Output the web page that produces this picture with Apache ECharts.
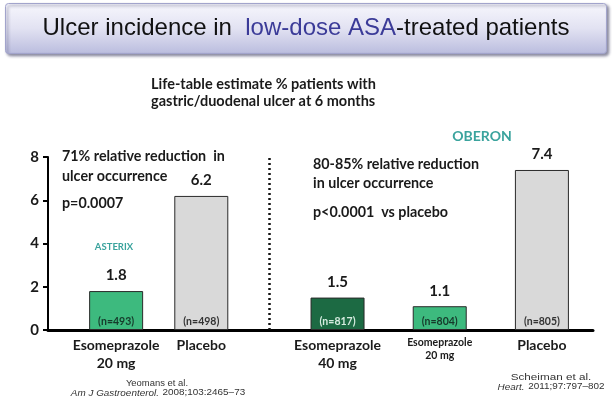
<!DOCTYPE html>
<html>
<head>
<meta charset="utf-8">
<script src="https://cdn.jsdelivr.net/npm/echarts@6/dist/echarts.min.js"></script>
<style>
  html, body { margin: 0; padding: 0; background: #ffffff; }
  #chart { width: 613px; height: 401px; }
</style>
</head>
<body>
<div id="chart"></div>
<script>
// ---- data ----
const categories = ['Esomeprazole\n20 mg', 'Placebo', 'Esomeprazole\n40 mg', 'Esomeprazole\n20 mg', 'Placebo'];
const values = [1.8, 6.2, 1.5, 1.1, 7.4];
const sampleSizes = [493, 498, 817, 804, 805];
const studies = ['ASTERIX', 'ASTERIX', 'OBERON', 'OBERON', 'OBERON'];
const yTicks = [0, 2, 4, 6, 8];

// ---- layout (slot positions on the category axis) ----
const slotCount = 33;
const slotIndex = [4, 9, 17, 23, 29];
const separatorSlot = 13;
const barColors = ['#3dba7e', '#d9d9d9', '#1c6a43', '#3dba7e', '#d9d9d9'];
const nColors = ['#16392a', '#333333', '#d6ece0', '#16392a', '#333333'];
const smallLabel = [false, false, false, true, false];

const FONT = 'Lato, "Open Sans", sans-serif';
const REF_FONT = '"Liberation Sans", Arial, sans-serif';

const slots = [];
for (let i = 0; i < slotCount; i++) slots.push('s' + i);
const labelBySlot = {};
const barData = new Array(slotCount).fill(null);
const nData = new Array(slotCount).fill(null);
categories.forEach((c, k) => {
  const s = slotIndex[k];
  labelBySlot[s] = k;
  barData[s] = { value: values[k], itemStyle: { color: barColors[k] } };
  nData[s] = { value: values[k], label: { color: nColors[k] }, n: sampleSizes[k] };
});

const chart = echarts.init(document.getElementById('chart'), null, { renderer: 'canvas' });

const option = {
  backgroundColor: '#ffffff',
  animation: false,
  grid: { left: 48, right: 20, top: 157, bottom: 71, containLabel: false },
  xAxis: {
    type: 'category',
    data: slots,
    boundaryGap: false,
    axisLine: { show: true, lineStyle: { color: '#000', width: 3 } },
    axisTick: { show: false },
    splitLine: { show: false },
    axisLabel: {
      interval: 0,
      margin: 6,
      fontFamily: FONT,
      fontWeight: 'bold',
      fontSize: 14,
      lineHeight: 18,
      color: '#1a1a1a',
      align: 'center',
      formatter: function (v, idx) {
        const k = labelBySlot[idx];
        if (k === undefined) return '';
        if (smallLabel[k]) {
          return categories[k].split('\n').map(t => '{s|' + t + '}').join('\n');
        }
        return categories[k];
      },
      rich: {
        s: { fontFamily: FONT, fontWeight: 'bold', fontSize: 10.5, lineHeight: 13, color: '#1a1a1a' }
      }
    }
  },
  yAxis: {
    type: 'value',
    min: yTicks[0],
    max: yTicks[yTicks.length - 1],
    interval: yTicks[1] - yTicks[0],
    axisLine: { show: true, lineStyle: { color: '#000', width: 2 } },
    axisTick: { show: true, length: 5, lineStyle: { color: '#000', width: 2 } },
    splitLine: { show: false },
    axisLabel: { fontFamily: FONT, fontWeight: 'bold', fontSize: 15, color: '#1a1a1a', margin: 9 }
  },
  series: [
    {
      type: 'bar',
      data: barData,
      barWidth: 54,
      itemStyle: { borderColor: '#2a2a2a', borderWidth: 1 },
      label: {
        show: true, position: 'top', distance: 8,
        fontFamily: FONT, fontWeight: 'bold', fontSize: 15, color: '#1a1a1a',
        formatter: p => p.value == null ? '' : String(p.value)
      },
      markLine: {
        silent: true,
        symbol: ['none', 'none'],
        label: { show: false },
        lineStyle: { type: [2, 3], color: '#111', width: 2.5 },
        data: [{ xAxis: separatorSlot }]
      },
      z: 2
    },
    {
      type: 'bar',
      data: nData,
      barWidth: 54,
      barGap: '-100%',
      itemStyle: { color: 'rgba(0,0,0,0)' },
      label: {
        show: true, position: 'insideBottom', distance: 3,
        fontFamily: FONT, fontWeight: 'bold', fontSize: 10.5,
        formatter: p => p.data && p.data.n ? '(n=' + p.data.n + ')' : ''
      },
      z: 3
    }
  ],
  graphic: [
    {
      type: 'rect', left: 5, top: 3, z: 10,
      shape: { width: 601, height: 50, r: 3 },
      style: {
        fill: new echarts.graphic.LinearGradient(0, 0, 0, 1, [
          { offset: 0, color: '#f7f7fd' },
          { offset: 0.5, color: '#e2e2f2' },
          { offset: 1, color: '#babcde' }
        ]),
        stroke: '#a2a4cc', lineWidth: 1,
        shadowBlur: 3, shadowOffsetX: 2, shadowOffsetY: 2, shadowColor: 'rgba(40,40,80,0.55)'
      }
    },
    {
      type: 'text', x: 306, y: 28, z: 11,
      style: {
        text: '{a|Ulcer incidence in  }{b|low-dose ASA}{a|-treated patients}',
        align: 'center', verticalAlign: 'middle',
        rich: {
          a: { fontFamily: REF_FONT, fontSize: 24, fill: '#111111' },
          b: { fontFamily: REF_FONT, fontSize: 24, fill: '#3b3b98' }
        }
      }
    },
    {
      type: 'text', x: 151, y: 84, z: 11,
      style: { text: 'Life-table estimate % patients with', font: 'bold 14.5px ' + FONT, fill: '#1a1a1a', verticalAlign: 'middle' }
    },
    {
      type: 'text', x: 151, y: 101, z: 11,
      style: { text: 'gastric/duodenal ulcer at 6 months', font: 'bold 14.5px ' + FONT, fill: '#1a1a1a', verticalAlign: 'middle' }
    },
    {
      type: 'text', x: 482, y: 136, z: 11,
      style: { text: studies[2], font: 'bold 14px ' + FONT, fill: '#3aa39d', align: 'center', verticalAlign: 'middle' }
    },
    {
      type: 'text', x: 114, y: 247, z: 11,
      style: { text: studies[0], font: 'bold 9.5px ' + FONT, fill: '#3aa39d', align: 'center', verticalAlign: 'middle' }
    },
    {
      type: 'text', x: 62, y: 156, z: 11,
      style: { text: '71% relative reduction  in', font: 'bold 14.3px ' + FONT, fill: '#1a1a1a', verticalAlign: 'middle' }
    },
    {
      type: 'text', x: 62, y: 176, z: 11,
      style: { text: 'ulcer occurrence', font: 'bold 14.3px ' + FONT, fill: '#1a1a1a', verticalAlign: 'middle' }
    },
    {
      type: 'text', x: 62, y: 203, z: 11,
      style: { text: 'p=0.0007', font: 'bold 14.3px ' + FONT, fill: '#1a1a1a', verticalAlign: 'middle' }
    },
    {
      type: 'text', x: 313, y: 164, z: 11,
      style: { text: '80-85% relative reduction', font: 'bold 14.3px ' + FONT, fill: '#1a1a1a', verticalAlign: 'middle' }
    },
    {
      type: 'text', x: 313, y: 183, z: 11,
      style: { text: 'in ulcer occurrence', font: 'bold 14.3px ' + FONT, fill: '#1a1a1a', verticalAlign: 'middle' }
    },
    {
      type: 'text', x: 313, y: 212, z: 11,
      style: { text: 'p<0.0001  vs placebo', font: 'bold 14.3px ' + FONT, fill: '#1a1a1a', verticalAlign: 'middle' }
    },
    {
      type: 'text', x: 157, y: 384, z: 11, scaleX: 1.05,
      style: { text: 'Yeomans et al.', font: '9px ' + REF_FONT, fill: '#333', align: 'center', verticalAlign: 'middle' }
    },
    {
      type: 'text', x: 158, y: 393, z: 11, scaleX: 1.1,
      style: {
        text: '{i|Am J Gastroenterol.} {r|2008;103:2465–73}', align: 'center', verticalAlign: 'middle',
        rich: {
          i: { fontFamily: REF_FONT, fontSize: 9, fontStyle: 'italic', fill: '#333' },
          r: { fontFamily: REF_FONT, fontSize: 9, fill: '#333' }
        }
      }
    },
    {
      type: 'text', x: 551, y: 378, z: 11, scaleX: 1.3,
      style: { text: 'Scheiman et al.', font: '9px ' + REF_FONT, fill: '#333', align: 'center', verticalAlign: 'middle' }
    },
    {
      type: 'text', x: 551, y: 387, z: 11, scaleX: 1.1,
      style: {
        text: '{i|Heart.} {r|2011;97:797–802}', align: 'center', verticalAlign: 'middle',
        rich: {
          i: { fontFamily: REF_FONT, fontSize: 9, fontStyle: 'italic', fill: '#333' },
          r: { fontFamily: REF_FONT, fontSize: 9, fill: '#333' }
        }
      }
    }
  ]
};
chart.setOption(option);
</script>
</body>
</html>
